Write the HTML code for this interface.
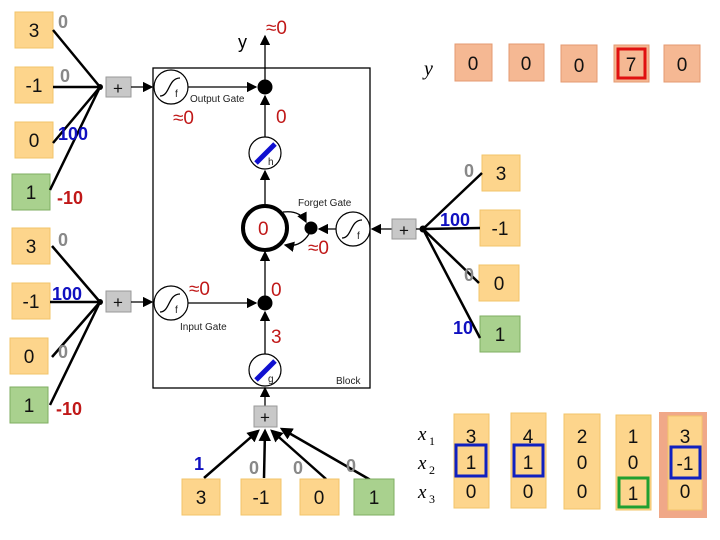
<!DOCTYPE html>
<html><head><meta charset="utf-8"><style>
body{margin:0;background:#fff}
svg{display:block;font-family:"Liberation Sans",sans-serif}
.y{fill:#fdd58c;stroke:#f2c46a;stroke-width:1}
.g{fill:#a9d18e;stroke:#7fae62;stroke-width:1}
.p{fill:#f5b893;stroke:#e49a70;stroke-width:1}
.pl{fill:#c8c8c8;stroke:#999}
.t{font-size:19px;fill:#111;text-anchor:middle}
.gr{font-size:18px;fill:#888;font-weight:bold}
.bl{font-size:18px;fill:#1010c0;font-weight:bold}
.rd{font-size:18px;fill:#c01818;font-weight:bold}
.rn{font-size:19px;fill:#c01818}
.sm{font-size:10px;fill:#222}
.ln{stroke:#000;stroke-width:2.5;fill:none}
.th{stroke:#000;stroke-width:1.3;fill:none}
</style></head><body>
<svg width="720" height="540" viewBox="0 0 720 540">
<defs><marker id="a" markerWidth="8" markerHeight="8" refX="7" refY="4" orient="auto"><path d="M0,0 L8,4 L0,8z" fill="#000"/></marker>
<marker id="b" markerWidth="5" markerHeight="5" refX="4" refY="2.5" orient="auto"><path d="M0,0 L5,2.5 L0,5z" fill="#000"/></marker></defs>
<rect x="153" y="68" width="217" height="320" fill="#fff" stroke="#000" stroke-width="1.3"/>
<text x="336" y="384" class="sm">Block</text>
<rect class="y" x="15" y="12" width="38" height="36"/><text class="t" x="34" y="37">3</text>
<rect class="y" x="15" y="67" width="38" height="36"/><text class="t" x="34" y="92">-1</text>
<rect class="y" x="15" y="122" width="38" height="36"/><text class="t" x="34" y="147">0</text>
<rect class="g" x="12" y="174" width="38" height="36"/><text class="t" x="31" y="199">1</text>
<path class="ln" d="M53,30 L100,87 M53,87 L100,87 M53,143 L100,87 M50,190 L100,87"/>
<circle cx="100" cy="87" r="3" fill="#000"/>
<text class="gr" x="58" y="28">0</text><text class="gr" x="60" y="82">0</text>
<text class="bl" x="58" y="140">100</text><text class="rd" x="57" y="204">-10</text>
<rect class="pl" x="106" y="77" width="25" height="20"/><text class="t" x="118" y="94" style="font-size:17px">+</text>
<line class="th" x1="131" y1="87" x2="152" y2="87" marker-end="url(#a)"/>
<rect class="y" x="12" y="228" width="38" height="36"/><text class="t" x="31" y="253">3</text>
<rect class="y" x="12" y="283" width="38" height="36"/><text class="t" x="31" y="308">-1</text>
<rect class="y" x="10" y="338" width="38" height="36"/><text class="t" x="29" y="363">0</text>
<rect class="g" x="10" y="387" width="38" height="36"/><text class="t" x="29" y="412">1</text>
<path class="ln" d="M52,246 L100,302 M50,302 L100,302 M52,357 L100,302 M50,405 L100,302"/>
<circle cx="100" cy="302" r="3" fill="#000"/>
<text class="gr" x="58" y="246">0</text><text class="bl" x="52" y="300">100</text>
<text class="gr" x="58" y="358">0</text><text class="rd" x="56" y="415">-10</text>
<rect class="pl" x="106" y="291" width="25" height="21"/><text class="t" x="118" y="308" style="font-size:17px">+</text>
<line class="th" x1="131" y1="302" x2="152" y2="302" marker-end="url(#a)"/>
<circle cx="171" cy="87" r="17" fill="#fff" stroke="#000" stroke-width="1.2"/>
<path d="M160,96 C170,96 168,78 180,78" class="th"/><text x="175" y="97" class="sm">f</text>
<line class="th" x1="188" y1="87" x2="256" y2="87" marker-end="url(#a)"/>
<circle cx="265" cy="87" r="7.5" fill="#000"/>
<text x="190" y="102" class="sm">Output Gate</text>
<line class="th" x1="265" y1="87" x2="265" y2="36" marker-end="url(#a)"/>
<text x="238" y="48" style="font-size:18px">y</text>
<text class="rn" x="266" y="34">≈0</text>
<text class="rn" x="173" y="124">≈0</text><text class="rn" x="276" y="123">0</text>
<line class="th" x1="265" y1="137" x2="265" y2="96" marker-end="url(#a)"/>
<circle cx="265" cy="153" r="16" fill="#fff" stroke="#000" stroke-width="1.2"/>
<line x1="256" y1="163" x2="275" y2="144" stroke="#1010d0" stroke-width="5"/>
<text x="268" y="165" class="sm">h</text>
<line class="th" x1="265" y1="204" x2="265" y2="171" marker-end="url(#a)"/>
<circle cx="265" cy="228" r="22" fill="#fff" stroke="#000" stroke-width="4"/>
<text class="rn" x="258" y="235">0</text>
<path class="th" d="M283,212 Q300,210 306,222" marker-end="url(#a)"/>
<path class="th" d="M309,234 Q300,248 285,245" marker-end="url(#a)"/>
<circle cx="311" cy="228" r="6.5" fill="#000"/>
<line class="th" x1="336" y1="229" x2="319" y2="229" marker-end="url(#a)"/>
<circle cx="353" cy="229" r="17" fill="#fff" stroke="#000" stroke-width="1.2"/>
<path d="M342,238 C352,238 350,220 362,220" class="th"/><text x="357" y="239" class="sm">f</text>
<text x="298" y="206" class="sm">Forget Gate</text>
<text class="rn" x="308" y="254">≈0</text>
<line class="th" x1="392" y1="229" x2="372" y2="229" marker-end="url(#a)"/>
<rect class="pl" x="392" y="219" width="24" height="20"/><text class="t" x="404" y="236" style="font-size:17px">+</text>
<rect class="y" x="482" y="155" width="38" height="36"/><text class="t" x="501" y="180">3</text>
<rect class="y" x="480" y="210" width="40" height="36"/><text class="t" x="500" y="235">-1</text>
<rect class="y" x="479" y="265" width="40" height="36"/><text class="t" x="499" y="290">0</text>
<rect class="g" x="480" y="316" width="40" height="36"/><text class="t" x="500" y="341">1</text>
<path class="ln" d="M423,229 L482,173 M423,229 L480,228 M423,229 L479,283 M423,229 L480,338"/>
<line class="th" x1="416" y1="229" x2="423" y2="229"/>
<circle cx="423" cy="229" r="3.5" fill="#000"/>
<text class="gr" x="464" y="177">0</text><text class="bl" x="440" y="226">100</text>
<text class="gr" x="464" y="281">0</text><text class="bl" x="453" y="334">10</text>
<circle cx="171" cy="303" r="17" fill="#fff" stroke="#000" stroke-width="1.2"/>
<path d="M160,312 C170,312 168,294 180,294" class="th"/><text x="175" y="313" class="sm">f</text>
<line class="th" x1="188" y1="303" x2="256" y2="303" marker-end="url(#a)"/>
<circle cx="265" cy="303" r="7.5" fill="#000"/>
<line class="th" x1="265" y1="303" x2="265" y2="252" marker-end="url(#a)"/>
<text x="180" y="330" class="sm">Input Gate</text>
<text class="rn" x="189" y="295">≈0</text><text class="rn" x="271" y="296">0</text>
<text class="rn" x="271" y="343">3</text>
<line class="th" x1="265" y1="354" x2="265" y2="312" marker-end="url(#a)"/>
<circle cx="265" cy="370" r="16" fill="#fff" stroke="#000" stroke-width="1.2"/>
<line x1="256" y1="380" x2="275" y2="361" stroke="#1010d0" stroke-width="5"/>
<text x="268" y="382" class="sm">g</text>
<line class="th" x1="265" y1="406" x2="265" y2="388" marker-end="url(#a)"/>
<rect class="pl" x="254" y="406" width="23" height="21"/><text class="t" x="265" y="423" style="font-size:17px">+</text>
<path class="ln" d="M204,478 L258,431" marker-end="url(#b)"/>
<path class="ln" d="M264,478 L265,431" marker-end="url(#b)"/>
<path class="ln" d="M326,479 L272,431" marker-end="url(#b)"/>
<path class="ln" d="M374,482 L282,429" marker-end="url(#b)"/>
<rect class="y" x="182" y="479" width="38" height="36"/><text class="t" x="201" y="504">3</text>
<rect class="y" x="241" y="479" width="40" height="36"/><text class="t" x="261" y="504">-1</text>
<rect class="y" x="300" y="479" width="39" height="36"/><text class="t" x="319" y="504">0</text>
<rect class="g" x="354" y="479" width="40" height="36"/><text class="t" x="374" y="504">1</text>
<text class="bl" x="194" y="470">1</text><text class="gr" x="249" y="474">0</text>
<text class="gr" x="293" y="474">0</text><text class="gr" x="346" y="472">0</text>
<text x="424" y="75" style="font-size:20px;font-style:italic;font-family:'Liberation Serif',serif">y</text>
<rect class="p" x="455" y="44" width="37" height="37"/><text class="t" x="473" y="70">0</text>
<rect class="p" x="509" y="44" width="35" height="37"/><text class="t" x="526" y="70">0</text>
<rect class="p" x="561" y="45" width="36" height="37"/><text class="t" x="579" y="72">0</text>
<rect class="p" x="614" y="45" width="35" height="37"/><rect x="618" y="49" width="27" height="29" fill="none" stroke="#e01010" stroke-width="3"/><text class="t" x="631" y="71">7</text>
<rect class="p" x="664" y="45" width="36" height="37"/><text class="t" x="682" y="71">0</text>
<g style="font-size:19px;font-style:italic;font-family:'Liberation Serif',serif">
<text x="418" y="440">x</text><text x="429" y="445" style="font-size:12px;font-style:normal">1</text>
<text x="418" y="469">x</text><text x="429" y="474" style="font-size:12px;font-style:normal">2</text>
<text x="418" y="498">x</text><text x="429" y="503" style="font-size:12px;font-style:normal">3</text>
</g>
<rect x="659" y="412" width="48" height="106" fill="#f0a888"/>
<rect class="y" x="454" y="414" width="35" height="94"/>
<rect class="y" x="511" y="413" width="35" height="95"/>
<rect class="y" x="564" y="414" width="36" height="95"/>
<rect class="y" x="616" y="415" width="35" height="95"/>
<rect class="y" x="668" y="416" width="34" height="94"/>
<rect x="456" y="445" width="30" height="31" fill="none" stroke="#1020c0" stroke-width="3"/>
<rect x="514" y="445" width="29" height="31" fill="none" stroke="#1020c0" stroke-width="3"/>
<rect x="671" y="447" width="29" height="31" fill="none" stroke="#1020c0" stroke-width="3"/>
<rect x="619" y="478" width="29" height="29" fill="none" stroke="#20a030" stroke-width="3"/>
<text class="t" x="471" y="443">3</text><text class="t" x="471" y="469">1</text><text class="t" x="471" y="498">0</text>
<text class="t" x="528" y="443">4</text><text class="t" x="528" y="469">1</text><text class="t" x="528" y="498">0</text>
<text class="t" x="582" y="443">2</text><text class="t" x="582" y="469">0</text><text class="t" x="582" y="498">0</text>
<text class="t" x="633" y="443">1</text><text class="t" x="633" y="469">0</text><text class="t" x="633" y="500">1</text>
<text class="t" x="685" y="443">3</text><text class="t" x="685" y="470">-1</text><text class="t" x="685" y="498">0</text>
</svg>
</body></html>
